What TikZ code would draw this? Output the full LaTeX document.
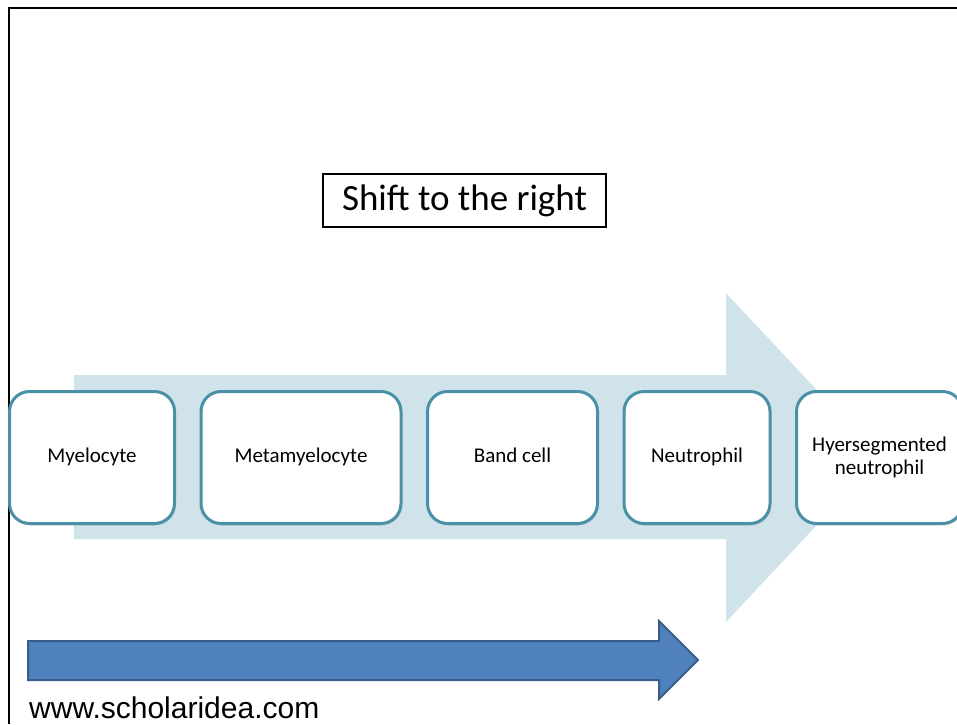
\documentclass[tikz,border=0pt]{standalone}
\usepackage{fontspec}
\setmainfont{Carlito}
\newfontfamily\urlfont{Liberation Sans}
\usetikzlibrary{positioning, chains, shadows}
\definecolor{palearrow}{RGB}{208,226,234}
\definecolor{cellline}{RGB}{74,144,166}
\definecolor{shiftfill}{RGB}{79,129,189}
\definecolor{shiftline}{RGB}{56,93,138}
\tikzset{cell/.style={draw=cellline, line width=3pt, fill=white, rounded corners=20pt,
    minimum height=132pt, inner sep=2pt, align=center, font=\fontsize{21}{23}\selectfont,
    drop shadow={opacity=0.25, shadow xshift=1pt, shadow yshift=-2pt}},
  oneline/.style={text height=14pt, text depth=5pt}}

\begin{document}
\begin{tikzpicture}[x=1pt, y=-1pt, start chain=1 going right, node distance=23.5pt]
	\useasboundingbox (0,0) rectangle (957,724);
	\draw[line width=2.5pt] (9,724) -- (9,8) -- (957,8);
	% pale arrow behind the cells
	\fill[palearrow] (74,375) -- (726,375) -- (726,293) -- (880,457.5) -- (726,622) -- (726,539) -- (74,539) -- cycle;
	\node[cell, oneline, on chain=1, minimum width=165pt] (myelo) at (92,457.5) {Myelocyte};
	\node[cell, oneline, on chain=1, minimum width=200pt] (meta) {Metamyelocyte};
	\node[cell, oneline, on chain=1, minimum width=170pt] (band) {Band cell};
	\node[cell, oneline, on chain=1, minimum width=146pt] (neut) {Neutrophil};
	\node[cell, on chain=1, minimum width=166pt] (hyper) {Hyersegmented\\neutrophil};
	\node[draw, line width=2pt, minimum width=283pt, minimum height=53pt, inner sep=0pt,
		font=\fontsize{37}{44}\selectfont] (shift) at (464.5,200.5) {Shift to the right};
	% dark arrow
	\filldraw[fill=shiftfill, draw=shiftline, line width=2pt] (28,641) -- (659,641) -- (659,621) -- (698,660) -- (659,699) -- (659,680) -- (28,680) -- cycle;
	\node[anchor=base west, inner sep=0pt, font=\urlfont\fontsize{30}{36}\selectfont] (site) at (29,718) {www.scholaridea.com};
\end{tikzpicture}
\end{document}
